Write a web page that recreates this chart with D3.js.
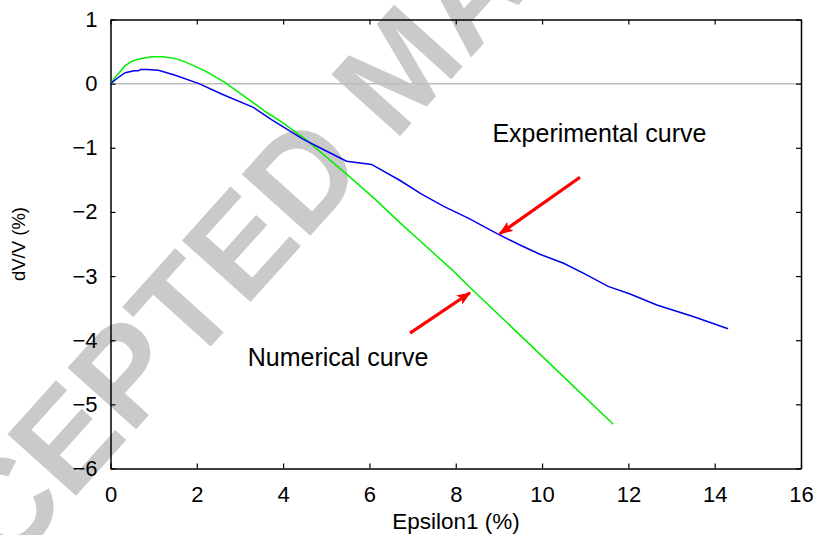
<!DOCTYPE html>
<html>
<head>
<meta charset="utf-8">
<script src="https://cdn.jsdelivr.net/npm/d3@7"></script>
<style>
  html, body { margin: 0; padding: 0; background: #fff; }
  svg { display: block; }
  text { font-family: "Liberation Sans", Arial, Helvetica, sans-serif; }
</style>
</head>
<body>
<svg id="chart" width="814" height="535"></svg>
<script>
// ---- data ----
const expX = [0, 0.15, 0.34, 0.55, 0.64, 0.70, 0.85, 1.11, 1.5, 2.05, 2.6, 3.31, 3.73, 4.47, 5.0, 5.47, 6.05, 6.71, 7.2, 7.71, 8.3, 8.99, 9.5, 9.95, 10.5, 11.0, 11.53, 12.04, 12.66, 13.5, 14.31];
const expY = [0, 0.08, 0.17, 0.20, 0.20, 0.22, 0.22, 0.21, 0.13, 0.0, -0.17, -0.37, -0.56, -0.87, -1.05, -1.21, -1.26, -1.51, -1.72, -1.91, -2.10, -2.35, -2.52, -2.66, -2.80, -2.97, -3.16, -3.28, -3.45, -3.63, -3.82];
const numX = [0, 0.15, 0.34, 0.5, 0.64, 0.95, 1.22, 1.5, 1.73, 2.19, 2.65, 3.19, 3.62, 3.97, 4.47, 5.47, 6.13, 6.71, 7.17, 7.91, 8.41, 9.1, 9.8, 10.7, 11.65];
const numY = [0, 0.13, 0.28, 0.35, 0.38, 0.42, 0.42, 0.39, 0.34, 0.20, 0.02, -0.24, -0.45, -0.60, -0.84, -1.41, -1.80, -2.17, -2.45, -2.90, -3.23, -3.67, -4.12, -4.70, -5.31];
const xTicks = [0, 2, 4, 6, 8, 10, 12, 14, 16];
const yTicks = [1, 0, -1, -2, -3, -4, -5, -6];
const labelTexts = ["Experimental curve", "Numerical curve"];
const labelPos = [[8.85, -0.91], [3.18, -4.4]];      // text start (data units)
const arrowFrom = [[10.88, -1.46], [6.94, -3.89]];
const arrowTo = [[9.02, -2.34], [8.33, -3.26]];
const xTitle = "Epsilon1 (%)";
const yTitle = "dV/V  (%)";
const watermark = "ACCEPTED MANUSCRIPT";

// ---- layout ----
const svg = d3.select("#chart");
const L = 110.5, R = 801, T = 19.5, B = 468.5;
const x = d3.scaleLinear().domain([0, 16]).range([L, R]);
const y = d3.scaleLinear().domain([-6, 1]).range([B, T]);

// watermark (behind)
svg.append("text")
  .attr("transform", "translate(-160,686) rotate(-48)")
  .attr("dy", "0.36em")
  .attr("font-size", 134)
  .attr("font-weight", "bold")
  .attr("fill", "#cacaca")
  .text(watermark);

// zero line
svg.append("line")
  .attr("x1", x(0)).attr("x2", x(16))
  .attr("y1", y(0)).attr("y2", y(0))
  .attr("stroke", "#bdbdbd").attr("stroke-width", 1.5);

// axes
const fs = 22;
const gB = svg.append("g").attr("transform", `translate(0,${B})`)
  .call(d3.axisBottom(x).tickValues(xTicks).tickFormat(d3.format("d")).tickSizeInner(-5).tickSizeOuter(0).tickPadding(17.5));
const gL = svg.append("g").attr("transform", `translate(${L},0)`)
  .call(d3.axisLeft(y).tickValues(yTicks).tickFormat(d3.format("d")).tickSizeInner(-5).tickSizeOuter(0).tickPadding(13));
const gT = svg.append("g").attr("transform", `translate(0,${T})`)
  .call(d3.axisTop(x).tickValues(xTicks).tickFormat("").tickSizeInner(-5).tickSizeOuter(0));
const gR = svg.append("g").attr("transform", `translate(${R},0)`)
  .call(d3.axisRight(y).tickValues(yTicks).tickFormat("").tickSizeInner(-5).tickSizeOuter(0));
[gB, gL, gT, gR].forEach(g => {
  g.selectAll("path.domain").attr("stroke", "#000").attr("stroke-width", 1.5);
  g.selectAll(".tick line").attr("stroke", "#000").attr("stroke-width", 1.2);
  g.selectAll("text").attr("font-size", fs).attr("fill", "#000")
    .attr("font-family", "'Liberation Sans', Arial, sans-serif");
});

// curves
const line = d3.line().x(d => x(d[0])).y(d => y(d[1]));
svg.append("path").datum(numX.map((v, i) => [v, numY[i]]))
  .attr("d", line).attr("fill", "none").attr("stroke", "#00ee00").attr("stroke-width", 1.5);
svg.append("path").datum(expX.map((v, i) => [v, expY[i]]))
  .attr("d", line).attr("fill", "none").attr("stroke", "#0000ee").attr("stroke-width", 1.5);

// arrows
svg.append("defs").append("marker")
  .attr("id", "ah").attr("viewBox", "0 0 14 11").attr("refX", 13).attr("refY", 5.5)
  .attr("markerWidth", 14).attr("markerHeight", 11).attr("markerUnits", "userSpaceOnUse")
  .attr("orient", "auto")
  .append("path").attr("d", "M0,0 L14,5.5 L0,11 L3,5.5 Z").attr("fill", "#ff0000");
arrowFrom.forEach((f, i) => {
  svg.append("line")
    .attr("x1", x(f[0])).attr("y1", y(f[1]))
    .attr("x2", x(arrowTo[i][0])).attr("y2", y(arrowTo[i][1]))
    .attr("stroke", "#ff0000").attr("stroke-width", 3.2)
    .attr("marker-end", "url(#ah)");
});

// annotation labels
labelTexts.forEach((t, i) => {
  svg.append("text")
    .attr("x", x(labelPos[i][0])).attr("y", y(labelPos[i][1]))
    .attr("font-size", 25).attr("fill", "#000").text(t);
});

// axis titles
svg.append("text")
  .attr("x", 456).attr("y", 529)
  .attr("text-anchor", "middle").attr("font-size", 22.5).attr("fill", "#000")
  .text(xTitle);
svg.append("text")
  .attr("transform", `translate(25,${(T + B) / 2}) rotate(-90)`)
  .attr("text-anchor", "middle").attr("font-size", 18.5).attr("fill", "#000")
  .text(yTitle);
</script>
</body>
</html>
